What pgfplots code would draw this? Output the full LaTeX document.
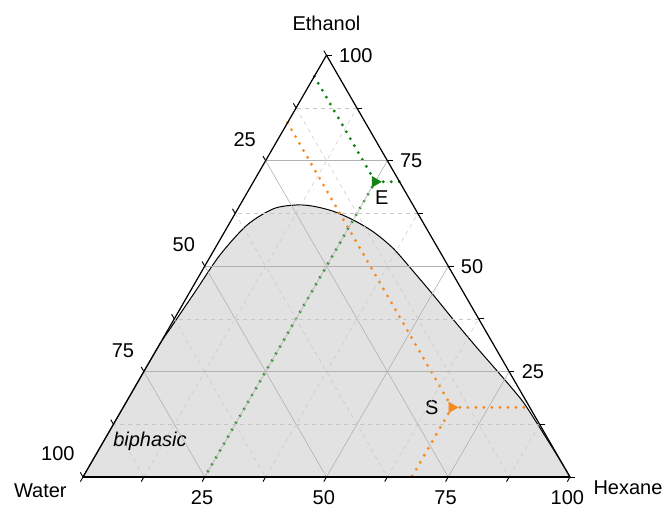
\documentclass[border=0pt]{standalone}
\usepackage{pgfplots}
\pgfplotsset{compat=1.18}
\usepgfplotslibrary{ternary}
\usepackage{fontspec}
\setmainfont{Liberation Sans}
\definecolor{egreen}{RGB}{20,130,20}
\definecolor{sorange}{RGB}{245,140,30}
\definecolor{biph}{RGB}{226,226,226}
% coordinates: (Ethanol, Water, Hexane)
\pgfplotstableread{
e w h
0 1 0
0.150 0.850 0.000
0.306 0.694 0.000
0.362 0.634 0.004
0.444 0.545 0.011
0.526 0.456 0.018
0.597 0.365 0.038
0.636 0.291 0.073
0.645 0.239 0.116
0.642 0.206 0.152
0.630 0.171 0.199
0.609 0.140 0.251
0.581 0.113 0.306
0.542 0.092 0.366
0.496 0.080 0.424
0.432 0.065 0.503
0.373 0.053 0.574
0.307 0.038 0.655
0.244 0.022 0.734
0.197 0.011 0.792
0.165 0.006 0.829
0.056 0.001 0.943
0 0 1
}\binodal
\begin{document}
\begin{tikzpicture}
\begin{ternaryaxis}[
  width=365.25pt, height=316.3pt, scale only axis,
  xmin=0,xmax=1,ymin=0,ymax=1,zmin=0,zmax=1,
  xtick={0,0.25,0.5,0.75,1}, ytick={0,0.25,0.5,0.75,1}, ztick={0,0.25,0.5,0.75,1},
  xticklabels={,25,50,75,100}, yticklabels={,25,50,75,100}, zticklabels={,25,50,75,100},
  minor tick num=1,
  grid=both,
  major grid style={gray!60, line width=0.45pt},
  minor grid style={gray!45, dashed, line width=0.35pt},
  axis line style={line width=0.9pt},
  tick style={black, line width=0.7pt},
  major tick length=4pt, minor tick length=4pt,
  axis on top,
  clip=false,
  ticklabel style={font=\fontsize{15}{18}\selectfont},
  yticklabel style={yshift=5pt, xshift=-1pt},
  zticklabel style={yshift=-3pt},
  xticklabel style={xshift=2pt},
]
\addplot3[fill=biph, draw=none, smooth, tension=0.5] table[x=e, y=w, z=h] {\binodal};
\addplot3[black, line width=0.75pt, smooth, tension=0.5] table[x=e, y=w, z=h] {\binodal};
\addplot3[egreen, line width=2.4pt, dash pattern=on 0pt off 6pt, line cap=round] coordinates {(0.95,0.05,0) (0.70,0.05,0.25) (0,0.75,0.25)};
\addplot3[egreen, line width=2.4pt, dash pattern=on 0pt off 6pt, line cap=round] coordinates {(0.70,0.05,0.25) (0.70,0,0.30)};
\addplot3[sorange, line width=2.4pt, dash pattern=on 0pt off 6pt, line cap=round] coordinates {(0.84,0.16,0) (0.165,0.16,0.675) (0,0.325,0.675)};
\addplot3[sorange, line width=2.4pt, dash pattern=on 0pt off 6pt, line cap=round] coordinates {(0.165,0.16,0.675) (0.165,0,0.835)};
\addplot3[only marks, mark=triangle*, mark size=4.5pt, mark options={rotate=-90, fill=egreen, draw=egreen}] coordinates {(0.70,0.05,0.25)};
\addplot3[only marks, mark=triangle*, mark size=4.5pt, mark options={rotate=-90, fill=sorange, draw=sorange}] coordinates {(0.165,0.16,0.675)};
\node[font=\fontsize{15}{18}\selectfont] at (axis cs:0.70,0.05,0.25) [xshift=5pt, yshift=-12pt] {E};
\node[font=\fontsize{15}{18}\selectfont] at (axis cs:0.165,0.16,0.675) [xshift=-15pt] {S};
\node[font=\fontsize{15}{18}\selectfont\itshape] at (axis cs:0.087,0.819,0.094) [yshift=-1pt] {biphasic};
\node[font=\fontsize{15}{18}\selectfont] at (axis cs:1,0,0) [yshift=24pt] {Ethanol};
\node[font=\fontsize{15}{18}\selectfont] at (axis cs:0,1,0) [xshift=-32pt, yshift=-10pt] {Water};
\node[font=\fontsize{15}{18}\selectfont] at (axis cs:0,0,1) [xshift=43.5pt, yshift=-8pt] {Hexane};
\coordinate (W) at (axis cs:0,1,0);
\end{ternaryaxis}
\pgfresetboundingbox
\path (W) ++(-62.25pt,-23.25pt) rectangle ++(503.25pt,381pt);
\end{tikzpicture}
\end{document}
